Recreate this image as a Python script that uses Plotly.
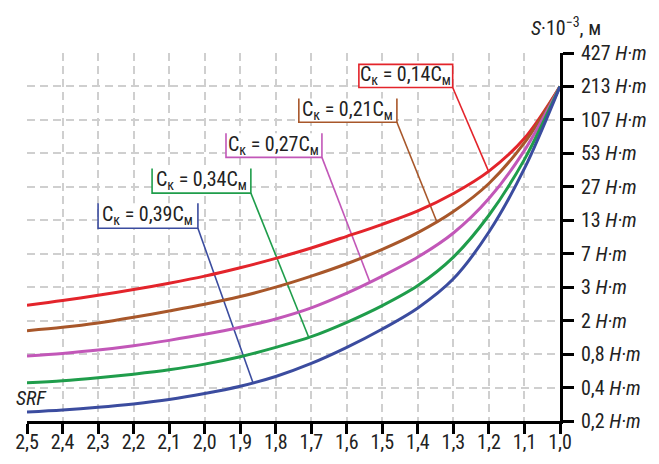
import numpy as np
import plotly.graph_objects as go

# x values (reversed axis, 2.5 -> 1.0)
x_vals = [2.5, 2.4, 2.3, 2.2, 2.1, 2.0, 1.9, 1.8, 1.7, 1.6, 1.5, 1.4, 1.3, 1.2, 1.1, 1.0]

# curve positions on the (equally spaced, doubling) S axis, in tick-level units
red_014     = [3.46, 3.60, 3.76, 3.93, 4.12, 4.33, 4.58, 4.86, 5.17, 5.52, 5.88, 6.28, 6.80, 7.47, 8.45, 10.0]
brown_021   = [2.70, 2.80, 2.93, 3.10, 3.29, 3.49, 3.72, 4.00, 4.33, 4.70, 5.13, 5.63, 6.26, 7.10, 8.32, 10.0]
magenta_027 = [1.94, 2.02, 2.12, 2.25, 2.41, 2.59, 2.80, 3.05, 3.38, 3.82, 4.33, 4.90, 5.62, 6.65, 8.09, 10.0]
green_034   = [1.14, 1.20, 1.29, 1.40, 1.53, 1.70, 1.92, 2.20, 2.52, 2.95, 3.45, 4.05, 4.90, 6.15, 7.82, 10.0]
blue_039    = [0.27, 0.33, 0.41, 0.51, 0.64, 0.82, 1.04, 1.33, 1.72, 2.20, 2.75, 3.38, 4.25, 5.65, 7.55, 10.0]

y_tick_labels = ["0,2", "0,4", "0,8", "2", "3", "7", "13", "27", "53", "107", "213", "427"]
x_tick_labels = ["2,5", "2,4", "2,3", "2,2", "2,1", "2,0", "1,9", "1,8", "1,7",
                 "1,6", "1,5", "1,4", "1,3", "1,2", "1,1", "1,0"]
series_labels = ["0,14", "0,21", "0,27", "0,34", "0,39"]

FONT = "Liberation Sans Narrow, Roboto Condensed, DejaVu Sans Condensed, Arial Narrow, sans-serif"
colors = ["#e3242b", "#a8572a", "#c257b8", "#1f9d4b", "#3b4c9f"]
series = [red_014, brown_021, magenta_027, green_034, blue_039]

# label boxes: (x_left, x_right, y_top, y_bottom, leader_end_x, closed_box)
boxes = [
    (1.566, 1.302, 10.66, 9.97, 1.201, True),
    (1.735, 1.459, 9.64, 8.93, 1.347, False),
    (1.940, 1.670, 8.60, 7.88, 1.535, False),
    (2.148, 1.870, 7.55, 6.81, 1.707, False),
    (2.300, 2.019, 6.51, 5.76, 1.864, False),
]

fig = go.Figure()
for ys, c in zip(series, colors):
    fig.add_trace(go.Scatter(x=x_vals, y=ys, mode="lines",
                             line=dict(color=c, width=3, shape="spline", smoothing=0.9),
                             showlegend=False, hoverinfo="skip"))

shapes = []
annotations = []
xs_inc = x_vals[::-1]
for (xl, xr, yt, yb, xe, closed), ys, c, lab in zip(boxes, series, colors, series_labels):
    if closed:
        path = f"M {xl},{yt} L {xl},{yb} L {xr},{yb} L {xr},{yt} Z"
    else:
        path = f"M {xl},{yt} L {xl},{yb} L {xr},{yb} L {xr},{yt}"
    shapes.append(dict(type="path", path=path, xref="x", yref="y",
                       line=dict(color=c, width=1.6), fillcolor="white", layer="between"))
    ye = float(np.interp(xe, xs_inc, ys[::-1]))
    shapes.append(dict(type="line", x0=xr, y0=yb, x1=xe, y1=ye, xref="x", yref="y",
                       line=dict(color=c, width=1.6), layer="between"))
    annotations.append(dict(x=(xl + xr) / 2, y=(yt + yb) / 2 + 0.02, xref="x", yref="y",
                            text=f"C<sub>к</sub> = {lab}C<sub>м</sub>", showarrow=False,
                            font=dict(family=FONT, size=20, color="#222222"),
                            xanchor="center", yanchor="middle"))

annotations.append(dict(x=1.012, y=1.07, xref="paper", yref="paper",
                        text="<i>S</i>·10<sup>−3</sup>, м", showarrow=False,
                        font=dict(family=FONT, size=20, color="#222222"),
                        xanchor="center", yanchor="middle"))
annotations.append(dict(x=2.487, y=0.68, xref="x", yref="y",
                        text="<i>SRF</i>", showarrow=False,
                        font=dict(family=FONT, size=20, color="#222222"),
                        xanchor="center", yanchor="middle"))

# the page body adds an 8 px margin, so the figure is sized/offset to compensate
fig.update_layout(
    width=643, height=448,
    margin=dict(l=19, r=91, t=45, b=35),
    paper_bgcolor="white", plot_bgcolor="white",
    font=dict(family=FONT, color="#222222"),
    shapes=shapes, annotations=annotations,
    xaxis=dict(range=[2.5, 1.0], tickvals=x_vals, ticktext=x_tick_labels,
               automargin=False,
               showgrid=True, gridcolor="#cfcfcf", gridwidth=1.5, griddash="8px,5px",
               showline=True, linecolor="black", linewidth=3,
               ticks="outside", ticklen=10, tickwidth=3, tickcolor="black",
               ticklabelstandoff=-9,
               tickfont=dict(family=FONT, size=20, color="#222222"),
               zeroline=False, fixedrange=True),
    yaxis=dict(range=[0, 11], side="right", tickvals=list(range(12)),
               ticktext=[f"{t} <i>H·m</i>" for t in y_tick_labels],
               automargin=False,
               showgrid=True, gridcolor="#cfcfcf", gridwidth=1.5, griddash="8px,5px",
               showline=True, linecolor="black", linewidth=3,
               ticks="outside", ticklen=11, tickwidth=3, tickcolor="black",
               ticklabelstandoff=3,
               tickfont=dict(family=FONT, size=20, color="#222222"),
               zeroline=False, fixedrange=True),
)

fig.write_html("out.html")
